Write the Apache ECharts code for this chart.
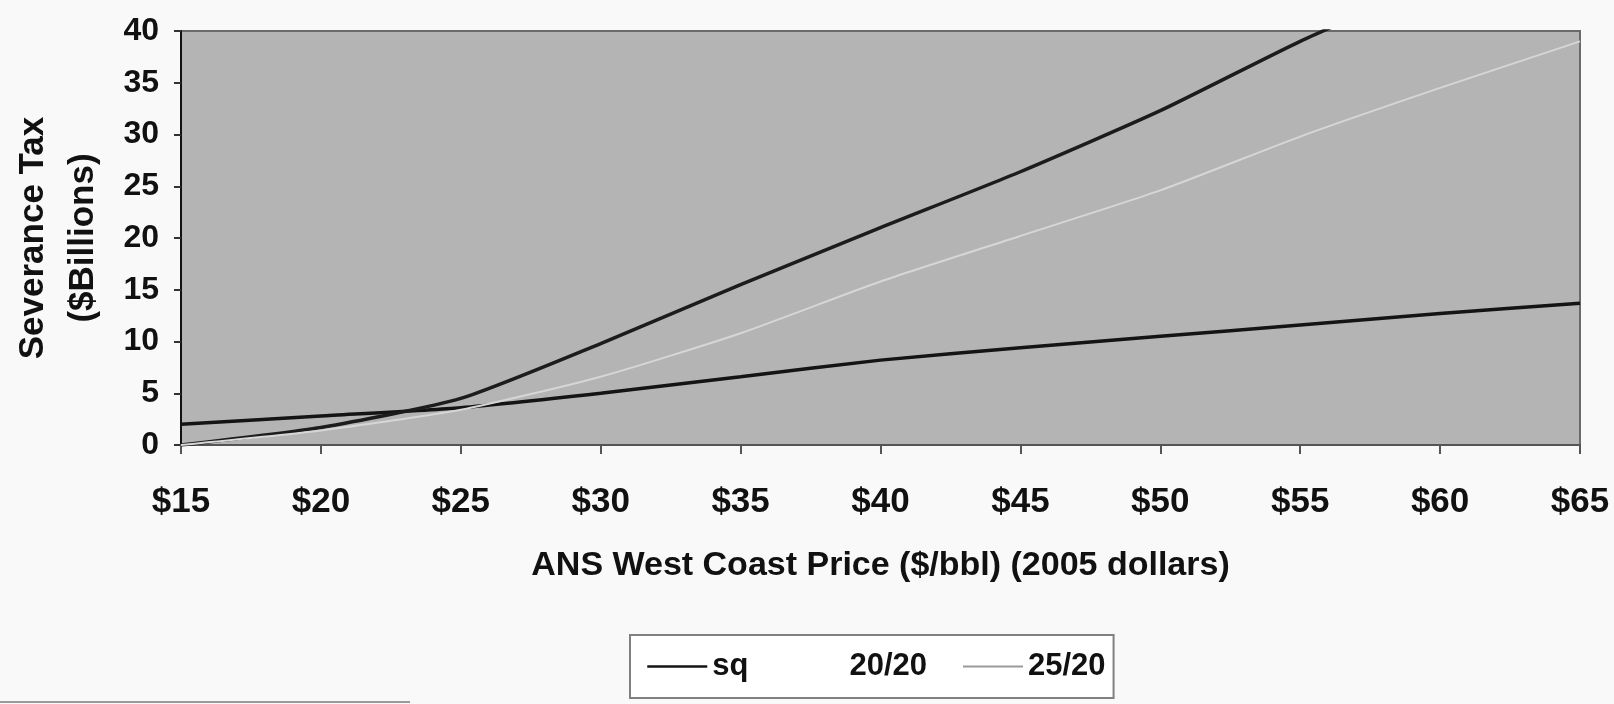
<!DOCTYPE html>
<html>
<head>
<meta charset="utf-8">
<title>Severance Tax vs ANS West Coast Price</title>
<script src="https://cdn.jsdelivr.net/npm/echarts@6/dist/echarts.min.js"></script>
<style>
  html, body { margin: 0; padding: 0; background: #f9f9f9; }
  #chart { width: 1614px; height: 704px; }
</style>
</head>
<body>
<div id="chart"></div>
<script>
// ANS West Coast price, $/bbl (2005 dollars)
const prices = [15, 20, 25, 30, 35, 40, 45, 50, 55, 60, 65];
// Severance tax, $ billions
const sq    = [2.0, 2.8, 3.6, 5.0, 6.6, 8.2, 9.4, 10.5, 11.6, 12.7, 13.7];
const s2020 = [0.0, 1.7, 4.5, 9.8, 15.5, 21.0, 26.4, 32.3, 39.0, 45.0, 51.0];
const s2520 = [0.0, 1.4, 3.4, 6.6, 10.8, 15.8, 20.2, 24.6, 29.8, 34.5, 39.0];
const seriesNames = ['sq', '20/20', '25/20'];
const yTicks = [0, 5, 10, 15, 20, 25, 30, 35, 40];

const pairs = vals => prices.map((p, i) => [p, vals[i]]);

const FONT = '"Liberation Sans", Arial, sans-serif';
const chart = echarts.init(document.getElementById('chart'), null, { renderer: 'canvas' });

chart.setOption({
  backgroundColor: '#f9f9f9',
  animation: false,
  grid: {
    left: 171, right: 34, top: 31, bottom: 259,
    show: true,
    backgroundColor: '#b4b4b4',
    borderColor: '#6a6a6a',
    borderWidth: 2
  },
  xAxis: {
    type: 'value',
    min: prices[0], max: prices[prices.length - 1], interval: 5,
    name: 'ANS West Coast Price ($/bbl) (2005 dollars)',
    nameLocation: 'middle',
    nameGap: 104,
    nameTextStyle: { fontFamily: FONT, fontWeight: 'bold', fontSize: 34, color: '#111' },
    axisLine: { show: true, onZero: false, lineStyle: { color: '#555', width: 2 } },
    axisTick: { show: true, inside: false, length: 9, lineStyle: { color: '#555', width: 2 } },
    axisLabel: {
      margin: 40, fontFamily: FONT, fontWeight: 'bold', fontSize: 35, color: '#111',
      formatter: v => '$' + v
    },
    splitLine: { show: false }
  },
  yAxis: {
    type: 'value',
    min: yTicks[0], max: yTicks[yTicks.length - 1], interval: 5,
    name: 'Severance Tax\n($Billions)',
    nameLocation: 'middle',
    nameRotate: 90,
    nameGap: 73,
    nameTextStyle: { fontFamily: FONT, fontWeight: 'bold', fontSize: 35, lineHeight: 50, color: '#111' },
    axisLine: { show: true, lineStyle: { color: '#111', width: 2 } },
    axisTick: { show: true, inside: false, length: 7, lineStyle: { color: '#333', width: 2 } },
    axisLabel: { margin: 22, fontFamily: FONT, fontWeight: 'bold', fontSize: 32, color: '#111' },
    splitLine: { show: false }
  },
  legend: {
    left: 630, top: 635,
    orient: 'horizontal',
    itemWidth: 60, itemHeight: 14, itemGap: 35,
    padding: [16, 8, 16, 16],
    backgroundColor: '#ffffff',
    borderColor: '#808080', borderWidth: 2,
    itemStyle: { opacity: 0 },
    textStyle: { fontFamily: FONT, fontWeight: 'bold', fontSize: 31, color: '#111' },
    data: [
      { name: seriesNames[0], lineStyle: { width: 2.5 } },
      { name: seriesNames[1], lineStyle: { opacity: 0 } },
      { name: seriesNames[2], lineStyle: { color: '#9a9a9a', width: 2 } }
    ]
  },
  series: [
    {
      name: seriesNames[0], type: 'line', data: pairs(sq),
      symbol: 'none', smooth: 0.2, clip: true,
      lineStyle: { color: '#141414', width: 3.5 }, itemStyle: { color: '#141414' }
    },
    {
      name: seriesNames[1], type: 'line', data: pairs(s2020),
      symbol: 'none', smooth: 0.2, clip: true,
      lineStyle: { color: '#1c1c1c', width: 3.5 }, itemStyle: { color: '#1c1c1c' }
    },
    {
      name: seriesNames[2], type: 'line', data: pairs(s2520),
      symbol: 'none', smooth: 0.2, clip: true,
      lineStyle: { color: '#d6d6d6', width: 2 }, itemStyle: { color: '#d6d6d6' }
    }
  ],
  graphic: [
    {
      type: 'line', silent: true,
      shape: { x1: 0, y1: 702, x2: 410, y2: 702 },
      style: { stroke: '#9a9a9a', lineWidth: 2 }
    }
  ]
});
</script>
</body>
</html>
